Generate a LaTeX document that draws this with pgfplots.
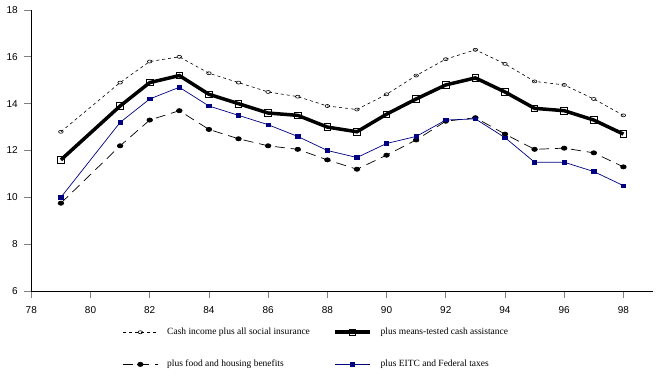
\documentclass[border=0pt]{standalone}
\usepackage{fontspec}
\setmainfont{Liberation Serif}
\newfontfamily\ticksf{Liberation Sans}
\usepackage{pgfplots}
\pgfplotsset{compat=1.18}
\definecolor{navy}{RGB}{0,0,128}
\definecolor{tickgray}{RGB}{128,128,128}
\begin{document}
\begin{tikzpicture}
\path[use as bounding box] (-31.3pt,-94pt) rectangle (635.7pt,291pt);
\begin{axis}[
  at={(0pt,0pt)}, anchor=south west,
  scale only axis, width=621.7pt, height=281pt,
  xmin=78, xmax=99, ymin=6, ymax=18,
  axis x line*=bottom, axis y line*=left,
  axis line style={black, line width=0.9pt},
  xtick={78,80,...,98}, ytick={6,8,...,18},
  tick align=outside,
  major tick length=7pt,
  tick style={tickgray, line width=0.8pt},
  /pgf/number format/assume math mode=true,
  tick label style={font=\ticksf\fontsize{10}{11}\selectfont},
  yticklabel style={xshift=-3pt},
  xticklabel style={yshift=-5pt},
  clip=false,
  legend columns=2,
  legend cell align=left,
  legend style={at={(91pt,-35pt)}, anchor=north west, draw=none, fill=none,
    font=\fontsize{9.5}{10}\selectfont,
    row sep=20pt, column sep=7pt, inner sep=0pt},
  legend image code/.code={
    \draw[mark repeat=2, mark phase=2] plot coordinates {(0pt,0pt) (17.5pt,0pt) (35pt,0pt)};
  },
]
\addplot[black, line width=0.6pt, dash pattern=on 3pt off 3pt,
  mark=o, mark size=2.3pt, mark options={solid, fill=white, yscale=0.65}]
  coordinates {(79,12.8) (81,14.9) (82,15.8) (83,16.0) (84,15.3) (85,14.9) (86,14.5) (87,14.3) (88,13.9) (89,13.75) (90,14.4) (91,15.2) (92,15.9) (93,16.3) (94,15.7) (95,14.95) (96,14.8) (97,14.2) (98,13.5)};
\addlegendentry{\makebox[157pt][l]{Cash income plus all social insurance}}
\addplot[black, line width=3.5pt,
  mark=square, mark size=3.3pt, mark options={solid, fill=white, line width=0.8pt}]
  coordinates {(79,11.6) (81,13.9) (82,14.9) (83,15.2) (84,14.4) (85,14.0) (86,13.6) (87,13.5) (88,13.0) (89,12.8) (90,13.55) (91,14.2) (92,14.8) (93,15.1) (94,14.5) (95,13.8) (96,13.7) (97,13.3) (98,12.7)};
\addlegendentry{plus means-tested cash assistance}
\addplot[black, line width=0.7pt, dash pattern=on 10pt off 6pt,
  mark=*, mark size=2.8pt, mark options={solid, yscale=0.75}]
  coordinates {(79,9.75) (81,12.2) (82,13.3) (83,13.7) (84,12.9) (85,12.5) (86,12.2) (87,12.05) (88,11.6) (89,11.2) (90,11.8) (91,12.45) (92,13.25) (93,13.4) (94,12.7) (95,12.05) (96,12.1) (97,11.9) (98,11.3)};
\addlegendentry{\makebox[157pt][l]{plus food and housing benefits}}
\addplot[navy, line width=0.7pt,
  mark=square*, mark size=2.2pt, mark options={solid, yscale=0.8}]
  coordinates {(79,10.0) (81,13.2) (82,14.2) (83,14.7) (84,13.9) (85,13.5) (86,13.1) (87,12.6) (88,12.0) (89,11.7) (90,12.3) (91,12.6) (92,13.3) (93,13.35) (94,12.55) (95,11.5) (96,11.5) (97,11.1) (98,10.5)};
\addlegendentry{plus EITC and Federal taxes}
\end{axis}
\end{tikzpicture}
\end{document}
